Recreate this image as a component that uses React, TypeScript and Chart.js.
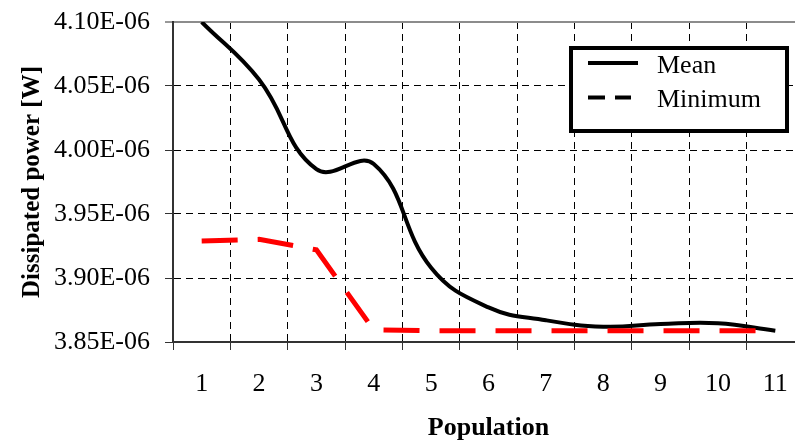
import React, { useEffect, useRef } from 'react';
import { Chart, registerables } from 'chart.js';

Chart.register(...registerables);

// ---- data ----
const categories = ['1', '2', '3', '4', '5', '6', '7', '8', '9', '10', '11'];
const meanPower = [4.1e-6, 4.055e-6, 3.985e-6, 3.989e-6, 3.908e-6, 3.877e-6, 3.867e-6, 3.862e-6, 3.864e-6, 3.8646e-6, 3.8588e-6];
const minimumPower = [3.929e-6, 3.9302e-6, 3.922e-6, 3.8594e-6, 3.8588e-6, 3.8588e-6, 3.8588e-6, 3.8588e-6, 3.8588e-6, 3.8588e-6, 3.8588e-6];
const yTicks = [3.85e-6, 3.9e-6, 3.95e-6, 4.0e-6, 4.05e-6, 4.1e-6];
const yTickLabels = ['3.85E-06', '3.90E-06', '3.95E-06', '4.00E-06', '4.05E-06', '4.10E-06'];
const seriesNames = ['Mean', 'Minimum'];
const xTitle = 'Population';
const yTitle = 'Dissipated power [W]';

const SERIF = '"Liberation Serif", "Times New Roman", serif';

const boxLegend = {
  id: 'boxLegend',
  afterDraw(chart: any) {
    const { ctx, chartArea } = chart;
    const x = chartArea.left + 398;
    const y = chartArea.top + 26;
    const w = 216;
    const h = 83;
    ctx.save();
    ctx.fillStyle = '#ffffff';
    ctx.fillRect(x, y, w, h);
    ctx.lineWidth = 4;
    ctx.strokeStyle = '#000000';
    ctx.setLineDash([]);
    ctx.strokeRect(x, y, w, h);
    chart.data.datasets.forEach((ds: any, i: number) => {
      const ly = y + 15 + i * 34.6;
      ctx.beginPath();
      ctx.lineWidth = 4;
      ctx.strokeStyle = '#000000';
      ctx.setLineDash(i === 0 ? [] : [17, 10]);
      ctx.moveTo(x + 17, ly);
      ctx.lineTo(x + (i === 0 ? 67 : 60), ly);
      ctx.stroke();
      ctx.setLineDash([]);
      ctx.fillStyle = '#000000';
      ctx.font = '26px ' + SERIF;
      ctx.textBaseline = 'middle';
      ctx.textAlign = 'left';
      ctx.fillText(ds.label, x + 86, ly + 3);
    });
    ctx.restore();
  },
};

export default function App() {
  const ref = useRef<HTMLCanvasElement>(null);

  useEffect(() => {
    if (!ref.current) return;
    const chart = new Chart(ref.current, {
      type: 'line',
      data: {
        labels: categories,
        datasets: [
          {
            label: seriesNames[0],
            data: meanPower,
            borderColor: '#000000',
            borderWidth: 4,
            pointRadius: 0,
            tension: 0.42,
            fill: false,
            order: 1,
          },
          {
            label: seriesNames[1],
            data: minimumPower,
            borderColor: '#ff0000',
            borderWidth: 5,
            borderDash: [36, 20],
            borderCapStyle: 'butt',
            pointRadius: 0,
            tension: 0,
            fill: false,
            order: 0,
          },
        ],
      },
      options: {
        animation: false,
        responsive: false,
        devicePixelRatio: 1,
        layout: { padding: { top: 22, right: 6, bottom: 0, left: 0 } },
        plugins: { legend: { display: false }, tooltip: { enabled: false } },
        scales: {
          x: {
            type: 'category',
            offset: true,
            afterFit: (scale: any) => {
              scale.height = 99;
              scale.paddingLeft = 0;
              scale.paddingRight = 0;
            },
            grid: {
              offset: true,
              color: '#000000',
              lineWidth: 1,
              tickLength: 8,
              tickColor: '#333333',
              tickWidth: 1,
            },
            border: { display: true, color: '#333333', width: 2, dash: [7, 5] },
            ticks: {
              color: '#000000',
              font: { family: SERIF, size: 26 },
              padding: 19,
              maxRotation: 0,
              autoSkip: false,
            },
            title: {
              display: true,
              text: xTitle,
              color: '#000000',
              font: { family: SERIF, size: 26, weight: 'bold', lineHeight: 1 },
              padding: { top: 0, bottom: 0 },
            },
          },
          y: {
            type: 'linear',
            min: yTicks[0],
            max: yTicks[yTicks.length - 1],
            afterBuildTicks: (scale: any) => {
              scale.ticks = yTicks.map((v) => ({ value: v }));
            },
            afterFit: (scale: any) => {
              scale.width = 173;
              scale.paddingTop = 0;
              scale.paddingBottom = 0;
            },
            grid: {
              color: (c: any) => (c.index === yTicks.length - 1 ? '#8c8c8c' : '#000000'),
              lineWidth: (c: any) => (c.index === yTicks.length - 1 ? 2 : 1),
              tickLength: 8,
              tickColor: '#333333',
              tickWidth: 1,
            },
            border: {
              display: true,
              color: '#333333',
              width: 2,
              dash: (c: any) => (c.index === yTicks.length - 1 ? [] : [7, 5]),
            },
            ticks: {
              color: '#000000',
              font: { family: SERIF, size: 26 },
              padding: 15,
              callback: (_v: any, i: number) => yTickLabels[i],
            },
            title: {
              display: true,
              text: yTitle,
              color: '#000000',
              font: { family: SERIF, size: 25, weight: 'bold' },
              padding: { top: 18, bottom: 0 },
            },
          },
        },
      },
      plugins: [boxLegend],
    });
    return () => chart.destroy();
  }, []);

  return (
    <div style={{ position: 'fixed', left: 0, top: 0, width: 795, height: 441, overflow: 'hidden', background: '#fff' }}>
      <canvas ref={ref} width={810} height={441} style={{ display: 'block' }} />
    </div>
  );
}
